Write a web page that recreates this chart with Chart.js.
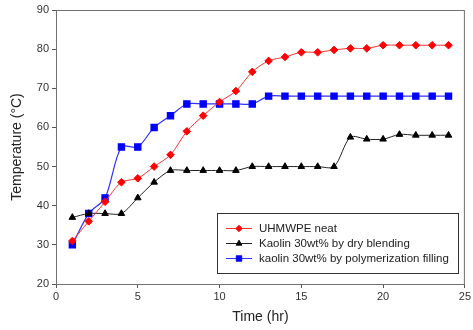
<!DOCTYPE html>
<html>
<head>
<meta charset="utf-8">
<script src="https://cdn.jsdelivr.net/npm/chart.js@4/dist/chart.umd.min.js"></script>
<style>
  body { margin: 0; background: #fff; }
  #wrap { width: 473px; height: 330px; position: relative; }
</style>
</head>
<body>
<div id="wrap"><canvas id="chart"></canvas></div>
<script>
const hours = [1, 2, 3, 4, 5, 6, 7, 8, 9, 10, 11, 12, 13, 14, 15, 16, 17, 18, 19, 20, 21, 22, 23, 24];
const neatTemp = [31, 36, 41, 46, 47, 50, 53, 59, 63, 66.5, 69.3, 74.2, 77, 78, 79.2, 79.2, 79.8, 80.2, 80.2, 81, 81, 81, 81, 81];
const dryTemp = [37, 38, 38, 38, 42, 46, 49, 49, 49, 49, 49, 50, 50, 50, 50, 50, 50, 57.5, 57, 57, 58.2, 58, 58, 58];
const polyTemp = [30, 38, 42, 55, 55, 60, 63, 66, 66, 66, 66, 66, 68, 68, 68, 68, 68, 68, 68, 68, 68, 68, 68, 68];
const yTicks = [20, 30, 40, 50, 60, 70, 80, 90];
const xTicks = [0, 5, 10, 15, 20, 25];

const fontName = "'Liberation Sans', Arial, sans-serif";

function toPoints(vals) {
  return hours.map((h, i) => ({ x: h, y: vals[i] }));
}

// frame round the plot and the boxed legend inside it
const framePlugin = {
  id: 'frame',
  afterDraw(c) {
    const ctx = c.ctx;
    const a = c.chartArea;
    ctx.save();
    ctx.strokeStyle = '#707070';
    ctx.lineWidth = 1;
    ctx.strokeRect(a.left + 0.5, a.top + 0.5, a.right - a.left - 1, a.bottom - a.top);

    const bx = 217, by = 213, bw = 241, bh = 60;
    ctx.fillStyle = '#fff';
    ctx.fillRect(bx, by, bw, bh);
    ctx.strokeStyle = '#333';
    ctx.strokeRect(bx + 0.5, by + 0.5, bw, bh);
    ctx.font = '11.5px ' + fontName;
    ctx.textBaseline = 'middle';
    c.data.datasets.forEach((ds, i) => {
      const y = by + 15 + i * 15;
      ctx.strokeStyle = ds.borderColor;
      ctx.lineWidth = 1;
      ctx.beginPath();
      ctx.moveTo(bx + 9, y + 0.5);
      ctx.lineTo(bx + 35, y + 0.5);
      ctx.stroke();
      Chart.helpers.drawPoint(ctx, {
        pointStyle: ds.pointStyle, radius: ds.pointRadius - 0.5, borderWidth: 1
      }, bx + 22, y + 0.5);
      ctx.fillStyle = ds.pointBackgroundColor;
      ctx.fill();
      ctx.fillStyle = '#222';
      ctx.fillText(ds.label, bx + 42, y + 1);
    });
    ctx.restore();
  }
};

const ctx = document.getElementById('chart').getContext('2d');
new Chart(ctx, {
  type: 'line',
  data: {
    datasets: [
      {
        label: 'UHMWPE neat',
        data: toPoints(neatTemp),
        borderColor: '#ff3030',
        pointBackgroundColor: '#ff0000',
        pointBorderColor: '#ff0000',
        pointStyle: 'rectRot',
        pointRadius: 3.8,
        borderWidth: 1,
        tension: 0.3
      },
      {
        label: 'Kaolin 30wt% by dry blending',
        data: toPoints(dryTemp),
        borderColor: '#222222',
        pointBackgroundColor: '#000000',
        pointBorderColor: '#000000',
        pointStyle: 'triangle',
        pointRadius: 3.8,
        borderWidth: 1,
        tension: 0.3
      },
      {
        label: 'kaolin 30wt% by polymerization filling',
        data: toPoints(polyTemp),
        borderColor: '#3030ff',
        pointBackgroundColor: '#0000ff',
        pointBorderColor: '#0000ff',
        pointStyle: 'rect',
        pointRadius: 4.4,
        borderWidth: 1.2,
        tension: 0.3
      }
    ]
  },
  options: {
    responsive: true,
    maintainAspectRatio: false,
    animation: false,
    layout: { padding: { top: 10, right: 5, left: 7, bottom: 0 } },
    plugins: {
      legend: { display: false },
      tooltip: { enabled: false }
    },
    scales: {
      x: {
        type: 'linear',
        min: 0,
        max: 25,
        afterBuildTicks: (axis) => { axis.ticks = xTicks.map(v => ({ value: v })); },
        afterFit: (axis) => { axis.height = 46; },
        grid: { drawOnChartArea: false, tickLength: 4, color: '#555' },
        border: { color: '#555' },
        ticks: { color: '#333', font: { family: fontName, size: 11 }, padding: 2 },
        title: {
          display: true,
          text: 'Time (hr)',
          color: '#222',
          font: { family: fontName, size: 14 },
          padding: { top: 4 }
        }
      },
      y: {
        min: 20,
        max: 90,
        afterBuildTicks: (axis) => { axis.ticks = yTicks.map(v => ({ value: v })); },
        afterFit: (axis) => { axis.width = 49; },
        grid: { drawOnChartArea: false, tickLength: 4, color: '#555' },
        border: { color: '#555' },
        ticks: { color: '#333', font: { family: fontName, size: 11 }, padding: 3 },
        title: {
          display: true,
          text: 'Temperature (°C)',
          color: '#222',
          font: { family: fontName, size: 14 },
          padding: { top: 2, bottom: 4 }
        }
      }
    }
  },
  plugins: [framePlugin]
});
</script>
</body>
</html>
